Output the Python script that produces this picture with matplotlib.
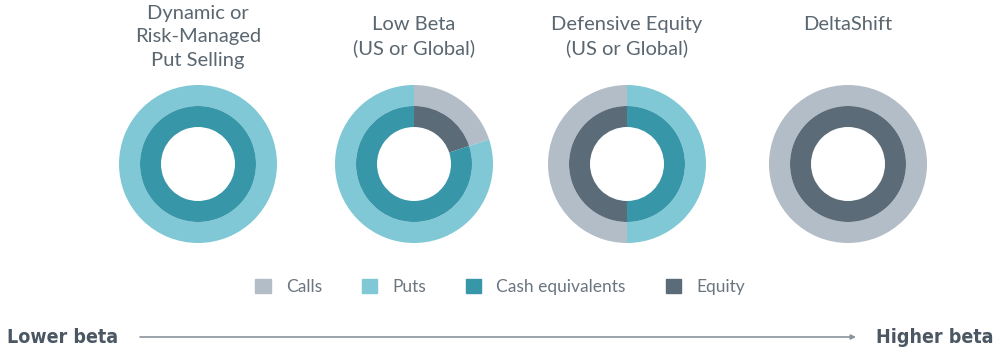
import matplotlib
matplotlib.use("Agg")
import matplotlib.pyplot as plt
from matplotlib.patches import Patch

# data
strategies = ["Dynamic or\nRisk-Managed\nPut Selling", "Low Beta\n(US or Global)",
              "Defensive Equity\n(US or Global)", "DeltaShift"]
outer_calls = [0, 20, 50, 100]
outer_puts = [100, 80, 50, 0]
inner_equity = [0, 20, 50, 100]
inner_cash = [100, 80, 50, 0]
clockwise = [True, True, False, True]
legend_labels = ["Calls", "Puts", "Cash equivalents", "Equity"]
end_labels = ["Lower beta", "Higher beta"]

c_calls = "#B2BDC7"
c_puts = "#80C8D6"
c_cash = "#3796A8"
c_equity = "#5B6C78"
txt = "#5A6670"

W, H = 1000, 354
fig = plt.figure(figsize=(10, 3.54), dpi=100)
ax = fig.add_axes([0, 0, 1, 1])

centers_x = [198, 414, 627, 848]
title_tops = [5, 16, 16, 16]
cy = H - 164
r_out, ring = 79, 21

for i, name in enumerate(strategies):
    cx = centers_x[i]
    ax.pie([outer_calls[i], outer_puts[i]], colors=[c_calls, c_puts],
           radius=r_out, center=(cx, cy), startangle=90,
           counterclock=not clockwise[i],
           wedgeprops=dict(width=ring, linewidth=0))
    ax.pie([inner_equity[i], inner_cash[i]], colors=[c_equity, c_cash],
           radius=r_out - ring, center=(cx, cy), startangle=90,
           counterclock=not clockwise[i],
           wedgeprops=dict(width=ring, linewidth=0))
    ax.text(cx, H - title_tops[i], name, ha="center", va="top", fontsize=14.5,
            family="Lato", color=txt, linespacing=1.45)

ax.set_xlim(0, W)
ax.set_ylim(0, H)
ax.set_aspect("equal")
ax.axis("off")

handles = [Patch(color=c) for c in [c_calls, c_puts, c_cash, c_equity]]
leg = ax.legend(handles, legend_labels, loc="center", bbox_to_anchor=(0.5, 1 - 287 / H),
                ncol=4, frameon=False, prop={"family": "Lato", "size": 12.5},
                handlelength=0.9, handleheight=0.9, handletextpad=0.85,
                columnspacing=2.3)
for t in leg.get_texts():
    t.set_color("#6A7580")

end_font = dict(fontsize=14, fontweight="bold", family="DejaVu Sans",
                fontstretch="condensed", color="#4B5763", va="baseline")
ax.text(7, H - 343, end_labels[0], ha="left", **end_font)
ax.text(993, H - 343, end_labels[1], ha="right", **end_font)
ax.annotate("", xy=(856, H - 337), xytext=(140, H - 337),
            arrowprops=dict(arrowstyle="-|>", color="#8A949D", lw=1.2,
                            mutation_scale=7, shrinkA=0, shrinkB=0))

fig.savefig("out.png", dpi=100)
